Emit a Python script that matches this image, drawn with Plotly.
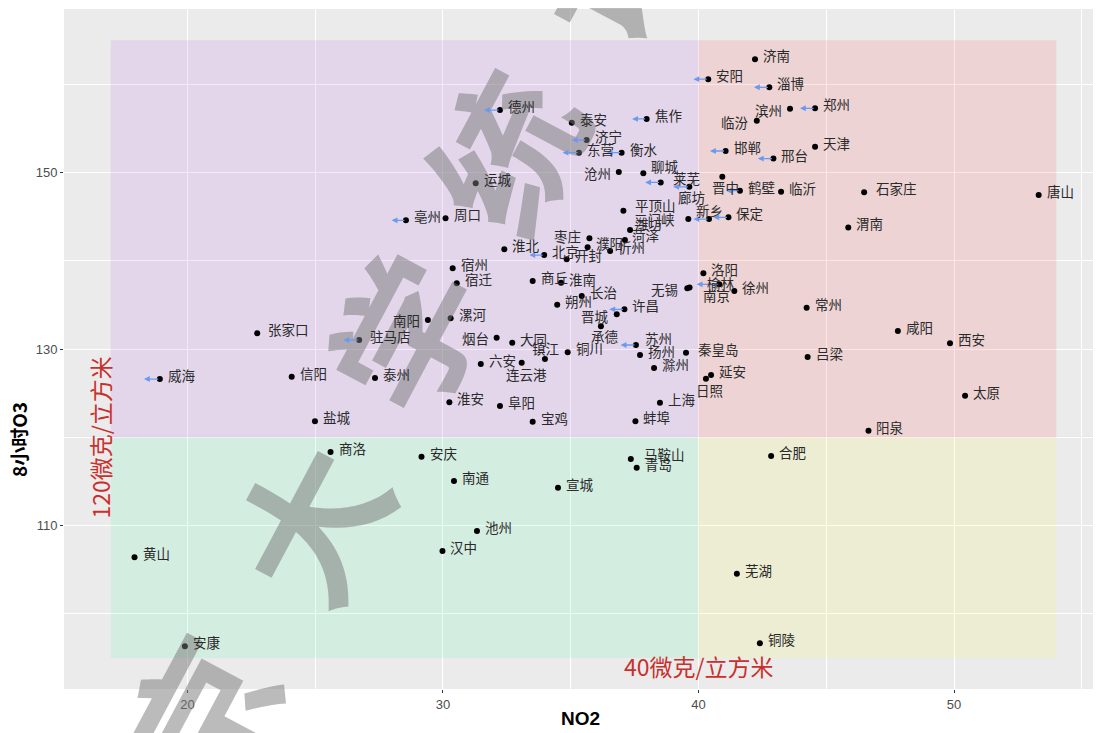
import plotly.graph_objects as go

# 城市、NO2、8小时O3
cities = ["济南", "安阳", "淄博", "德州", "郑州", "滨州", "焦作", "泰安", "临汾", "济宁",
          "天津", "东营", "衡水", "邯郸", "邢台", "沧州", "聊城", "运城", "莱芜", "晋中",
          "鹤壁", "临沂", "石家庄", "唐山", "廊坊", "平顶山", "新乡", "保定", "亳州", "周口",
          "三门峡", "潍坊", "渭南", "菏泽", "枣庄", "濮阳", "淮北", "北京", "开封", "忻州",
          "宿州", "洛阳", "商丘", "淮南", "榆林", "无锡", "南京", "徐州", "宿迁", "长治",
          "朔州", "许昌", "常州", "漯河", "南阳", "晋城", "张家口", "驻马店", "承德", "咸阳",
          "烟台", "大同", "苏州", "西安", "镇江", "铜川", "扬州", "秦皇岛", "六安", "吕梁",
          "连云港", "滁州", "威海", "信阳", "泰州", "延安", "日照", "太原", "淮安", "阜阳",
          "上海", "盐城", "宝鸡", "蚌埠", "阳泉", "商洛", "安庆", "合肥", "马鞍山", "青岛",
          "南通", "宣城", "池州", "汉中", "黄山", "芜湖", "安康", "铜陵"]
no2 = [42.21, 40.38, 42.77, 32.23, 44.56, 43.58, 37.97, 35.04, 42.28, 35.62,
       44.56, 35.32, 36.99, 41.06, 42.93, 36.88, 37.84, 31.28, 38.52, 40.93,
       41.62, 43.23, 46.48, 53.31, 39.64, 37.06, 40.41, 41.17, 28.55, 30.10,
       39.60, 37.32, 45.86, 37.12, 35.73, 35.66, 32.40, 33.96, 34.84, 36.54,
       30.38, 40.19, 33.51, 34.62, 40.81, 39.56, 39.65, 41.40, 30.54, 35.43,
       34.47, 37.10, 44.23, 30.30, 29.41, 36.80, 22.73, 26.72, 36.18, 47.80,
       32.10, 32.71, 37.55, 49.84, 33.99, 34.88, 37.71, 39.51, 31.48, 44.27,
       33.08, 38.26, 18.92, 24.08, 27.34, 40.49, 40.29, 50.43, 30.25, 32.23,
       38.49, 24.99, 33.51, 37.53, 46.65, 25.60, 29.16, 42.84, 37.35, 37.58,
       30.43, 34.50, 31.33, 29.98, 17.93, 41.50, 19.90, 42.40]
o3 = [162.85, 160.60, 159.68, 157.10, 157.30, 157.25, 156.10, 155.67, 155.90, 153.70,
      152.95, 152.27, 152.27, 152.46, 151.60, 150.08, 149.93, 148.80, 148.90, 149.55,
      147.96, 147.85, 147.78, 147.47, 148.40, 145.70, 144.75, 144.95, 144.60, 144.83,
      144.75, 143.50, 143.80, 142.37, 142.57, 141.55, 141.32, 140.67, 140.19, 141.13,
      139.17, 138.60, 137.73, 137.54, 137.35, 136.90, 137.00, 136.60, 137.47, 136.03,
      135.04, 134.52, 134.70, 133.50, 133.31, 133.95, 131.80, 131.04, 132.60, 132.06,
      131.30, 130.74, 130.48, 130.67, 128.89, 129.65, 129.34, 129.60, 128.32, 129.12,
      128.47, 127.87, 126.62, 126.88, 126.74, 127.08, 126.66, 124.73, 123.99, 123.56,
      123.94, 121.83, 121.78, 121.83, 120.77, 118.35, 117.82, 117.90, 117.56, 116.58,
      115.07, 114.30, 109.40, 107.13, 106.42, 104.56, 96.33, 96.67]

# 箭头：城市 -> 箭头指向的NO2
arrow_cities = ["安阳", "淄博", "德州", "郑州", "焦作", "济宁", "东营", "衡水", "邯郸", "邢台",
                "莱芜", "廊坊", "鹤壁", "亳州", "新乡", "保定", "北京", "榆林", "许昌", "驻马店",
                "苏州", "威海"]
arrow_to = [39.80, 42.17, 31.60, 43.97, 37.40, 35.04, 34.68, 36.41, 40.45, 42.32,
            37.91, 39.01, 41.08, 27.99, 39.80, 40.58, 33.38, 39.93, 36.51, 26.10,
            36.95, 18.30]

# 区域
x_cut = 40
y_cut = 120
x_lo, x_hi = 17, 54
y_lo, y_hi = 95, 165

# 标签位置（默认在点右侧）
label_pos = {
    "滨州": ("right", -6, -1), "临汾": ("right", -6, -1), "沧州": ("right", -6, -1),
    "聊城": ("left", 6, 7), "莱芜": ("left", 10, 4), "廊坊": ("center", 2, -10),
    "晋中": ("center", 3, -10), "新乡": ("center", 0, 9), "三门峡": ("right", -11, 0),
    "平顶山": ("left", 10, 6), "枣庄": ("right", -6, 2), "菏泽": ("left", 5, 5),
    "潍坊": ("left", 3, 7), "晋城": ("right", -6, -2), "承德": ("center", 4, -10),
    "无锡": ("right", -7, -1), "榆林": ("center", 2, 1), "南京": ("left", 11, -8),
    "秦皇岛": ("left", 10, 4), "日照": ("center", 4, -11), "石家庄": ("left", 10, 4),
    "张家口": ("left", 9, 4), "驻马店": ("left", 9, 4), "南阳": ("right", -6, 0),
    "烟台": ("right", -6, 0), "镇江": ("center", 1, 11), "连云港": ("center", 5, -11),
    "马鞍山": ("left", 11, 5), "苏州": ("left", 7, 7),
}

FONT = "Noto Sans CJK SC, Liberation Sans, Arial"
RED = "#C9302C"

fig = go.Figure()

fig.add_trace(go.Scatter(
    x=no2, y=o3, mode="markers",
    marker=dict(size=6, color="black"),
    text=cities, hoverinfo="text", showlegend=False,
))

shapes = []
quads = [
    (x_lo, x_cut, y_cut, y_hi, "rgba(160,32,240,0.1)"),
    (x_cut, x_hi, y_cut, y_hi, "rgba(255,0,0,0.1)"),
    (x_lo, x_cut, y_lo, y_cut, "rgba(0,255,127,0.1)"),
    (x_cut, x_hi, y_lo, y_cut, "rgba(255,255,0,0.1)"),
]
for x0, x1, y0, y1, c in quads:
    shapes.append(dict(type="rect", xref="x", yref="y", x0=x0, x1=x1, y0=y0, y1=y1,
                       fillcolor=c, line=dict(width=0), layer="between"))
shapes.append(dict(type="line", xref="x", yref="paper", x0=x_cut, x1=x_cut, y0=0, y1=1,
                   line=dict(color=RED, width=1), layer="between"))
shapes.append(dict(type="line", xref="paper", yref="y", x0=0, x1=1, y0=y_cut, y1=y_cut,
                   line=dict(color=RED, width=1), layer="between"))

annotations = []

# 水印（先画，放在最下层的注释）
W, H, L, T = 1036, 680, 64, 9
def paper(px, py):
    return (px - L) / W, (T + H - py) / H

for ch, px, py in [("京", 195, 712), ("大", 305, 520), ("学", 400, 330), ("统", 500, 148), ("计", 600, -40)]:
    xp, yp = paper(px, py)
    annotations.append(dict(xref="paper", yref="paper", x=xp, y=yp, text="<b>" + ch + "</b>",
                            showarrow=False, xanchor="center", yanchor="middle",
                            textangle=-62,
                            font=dict(family=FONT, size=150, color="rgba(120,120,120,0.5)")))

# 箭头
pos = {c: (a, b) for c, a, b in zip(cities, no2, o3)}
for c, xt in zip(arrow_cities, arrow_to):
    xa, ya = pos[c]
    annotations.append(dict(x=xt, y=ya, ax=xa, ay=ya, xref="x", yref="y", axref="x", ayref="y",
                            text="", showarrow=True, arrowhead=2, arrowsize=0.9, arrowwidth=1.3,
                            arrowcolor="#6A9AF0", standoff=0))
# 城市标签
for c, a, b in zip(cities, no2, o3):
    anc, dx, dy = label_pos.get(c, ("left", 6, 4))
    annotations.append(dict(x=a, y=b, text=c, showarrow=False, xanchor=anc,
                            xshift=dx, yshift=dy,
                            font=dict(family=FONT, size=13.5, color="#2a2a2a")))

annotations.append(dict(x=16.58, y=y_cut, text="120微克/立方米", showarrow=False, textangle=-90,
                        xanchor="center", yanchor="middle",
                        font=dict(family=FONT, size=23, color=RED)))
annotations.append(dict(x=x_cut, y=94.1, text="40微克/立方米", showarrow=False,
                        xanchor="center", yanchor="middle",
                        font=dict(family=FONT, size=23, color=RED)))

# 坐标轴标题
xt_x, xt_y = paper(580, 718)
yt_x, yt_y = paper(18, 440)
annotations.append(dict(xref="paper", yref="paper", x=xt_x, y=xt_y, text="<b>NO2</b>",
                        showarrow=False, xanchor="center", yanchor="middle",
                        font=dict(family="Liberation Sans, Arial", size=19, color="black")))
annotations.append(dict(xref="paper", yref="paper", x=yt_x, y=yt_y, text="<b>8小时O3</b>",
                        showarrow=False, textangle=-90, xanchor="center", yanchor="middle",
                        font=dict(family=FONT, size=19, color="black")))

# 页面 body 有 8px 边距，图宽高相应缩小
fig.update_layout(
    width=1093, height=725,
    margin=dict(l=56, r=1, t=1, b=44),
    paper_bgcolor="white", plot_bgcolor="#EBEBEB",
    shapes=shapes, annotations=annotations,
    showlegend=False,
    font=dict(family="Liberation Sans, Arial"),
)
fig.update_xaxes(range=[15.17, 55.71], tick0=0, dtick=10, showgrid=True, gridcolor="white",
                 gridwidth=1.2, zeroline=False, ticks="outside", ticklen=3, tickcolor="#333333",
                 tickfont=dict(size=13, color="#4D4D4D"),
                 minor=dict(tick0=0, dtick=5, showgrid=True, gridcolor="white", gridwidth=0.6))
fig.update_yaxes(range=[91.5, 168.55], tick0=10, dtick=20, showgrid=True, gridcolor="white",
                 gridwidth=1.2, zeroline=False, ticks="outside", ticklen=3, tickcolor="#333333",
                 tickfont=dict(size=13, color="#4D4D4D"),
                 minor=dict(tick0=0, dtick=10, showgrid=True, gridcolor="white", gridwidth=0.6))

fig.write_html("out.html")
